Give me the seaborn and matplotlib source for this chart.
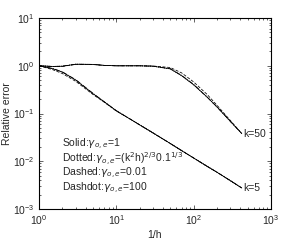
import pandas as pd
import matplotlib
matplotlib.use("Agg")
import matplotlib.pyplot as plt
import seaborn as sns

# data
inv_h = [1, 1.5, 2, 3, 5, 7, 10, 15, 20, 30, 50, 70, 100, 150, 200, 300, 420]

k5_solid = [1.0, 0.87, 0.74, 0.5, 0.26, 0.175, 0.114, 0.077, 0.058, 0.039, 0.0235,
            0.0167, 0.0117, 0.0078, 0.0059, 0.0039, 0.00275]
k5_dotted = [1.0, 0.87, 0.74, 0.5, 0.26, 0.175, 0.114, 0.077, 0.058, 0.039, 0.0235,
             0.0167, 0.0117, 0.0078, 0.0059, 0.0039, 0.00275]
k5_dashed = [1.0, 0.83, 0.69, 0.47, 0.25, 0.172, 0.113, 0.077, 0.058, 0.039, 0.0235,
             0.0167, 0.0117, 0.0078, 0.0059, 0.0039, 0.00275]
k5_dashdot = [1.0, 0.88, 0.75, 0.51, 0.265, 0.176, 0.115, 0.077, 0.058, 0.039, 0.0235,
              0.0167, 0.0117, 0.0078, 0.0059, 0.0039, 0.00275]

k50_solid = [1.0, 0.97, 0.98, 1.08, 1.07, 1.02, 1.0, 1.0, 1.0, 0.98, 0.86, 0.62, 0.40,
             0.22, 0.138, 0.068, 0.038]
k50_dotted = [1.0, 0.97, 0.98, 1.08, 1.07, 1.02, 1.0, 1.0, 1.0, 0.98, 0.86, 0.62, 0.40,
              0.22, 0.138, 0.068, 0.038]
k50_dashed = [1.0, 0.96, 0.97, 1.07, 1.06, 1.02, 1.0, 1.0, 1.0, 0.99, 0.92, 0.71, 0.46,
              0.25, 0.15, 0.071, 0.038]
k50_dashdot = [1.0, 0.97, 0.98, 1.08, 1.07, 1.02, 1.0, 1.0, 1.0, 0.98, 0.87, 0.63, 0.41,
               0.22, 0.139, 0.068, 0.038]

legend_lines = [r"Solid:$\gamma_{o,e}$=1",
                r"Dotted:$\gamma_{o,e}$=(k$^2$h)$^{2/3}$0.1$^{1/3}$",
                r"Dashed:$\gamma_{o,e}$=0.01",
                r"Dashdot:$\gamma_{o,e}$=100"]

series = {
    ("k5", "solid"): k5_solid, ("k5", "dotted"): k5_dotted,
    ("k5", "dashed"): k5_dashed, ("k5", "dashdot"): k5_dashdot,
    ("k50", "solid"): k50_solid, ("k50", "dotted"): k50_dotted,
    ("k50", "dashed"): k50_dashed, ("k50", "dashdot"): k50_dashdot,
}
styles = {"solid": "-", "dotted": ":", "dashed": (0, (4, 2)), "dashdot": "-."}

sns.set_style("ticks")
plt.rcParams["font.family"] = ["Liberation Sans", "DejaVu Sans"]
plt.rcParams["mathtext.fontset"] = "dejavusans"
plt.rcParams["font.size"] = 7.5
plt.rcParams["xtick.direction"] = "in"
plt.rcParams["ytick.direction"] = "in"

fig = plt.figure(figsize=(3.0, 2.41), dpi=100)
ax = fig.add_axes([0.13, 0.133, 0.773, 0.792])

for (k, st), vals in series.items():
    df = pd.DataFrame({"x": inv_h, "y": vals})
    sns.lineplot(data=df, x="x", y="y", ax=ax, color="black", lw=0.55,
                 linestyle=styles[st], estimator=None)

ax.set_xscale("log")
ax.set_yscale("log")
ax.set_xlim(1, 1000)
ax.set_ylim(1e-3, 10)
ax.set_xlabel("1/h", fontsize=7.5, labelpad=2)
ax.set_ylabel("Relative error", fontsize=7.5, labelpad=1)

ax.tick_params(which="both", top=True, right=True, labelsize=7.5, width=0.5, pad=3)
ax.tick_params(which="major", length=3)
ax.tick_params(which="minor", length=1.5)
for s in ax.spines.values():
    s.set_linewidth(0.8)
    s.set_color("black")

for i, t in enumerate(legend_lines):
    ax.text(0.1, 0.34 - i * 0.078, t, transform=ax.transAxes, fontsize=7.5, va="center")

ax.text(inv_h[-1] * 1.03, k50_solid[-1], "k=50", fontsize=7.5, va="center")
ax.text(inv_h[-1] * 1.03, k5_solid[-1], "k=5", fontsize=7.5, va="center")

fig.savefig("out.png", dpi=100)
